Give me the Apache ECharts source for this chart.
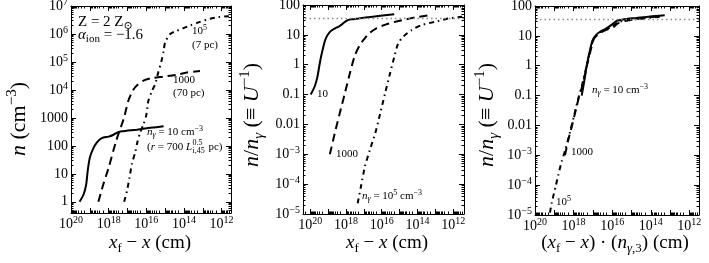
<!DOCTYPE html>
<html><head><meta charset="utf-8">
<script src="https://cdn.jsdelivr.net/npm/echarts@6/dist/echarts.min.js"></script>
<style>html,body{margin:0;padding:0;background:#fff}#c{width:709px;height:263px}</style>
</head><body><div id="c"></div><script>
// ---------------- data ----------------
// Panel 1: n (cm^-3) vs x_f - x (cm)
const p1SolidX = [3.5e19, 2.1e19, 1.55e19, 1.3e19, 1.0e19, 6.8e18, 4.2e18, 2.3e18, 1.0e18, 5.5e17, 3.4e17, 2.0e17, 3.2e16, 6.3e15, 1.2e15];
const p1SolidN = [1, 1.9, 4.3, 12.6, 38, 76, 132, 190, 214, 250, 300, 330, 380, 440, 500];
const p1DashX = [3.5e18, 1.9e18, 1.0e18, 4.0e17, 1.5e17, 9.1e16, 5.0e16, 2.7e16, 1.15e16, 4.2e15, 1.2e15, 2.4e14, 7.1e13, 1.4e13];
const p1DashN = [1, 4.3, 16.6, 150, 1050, 4000, 10000, 16000, 23000, 27000, 30000, 35000, 42000, 47000];
const p1DotDashX = [1.5e17, 1.07e17, 7.8e16, 5.9e16, 3.9e16, 3.0e16, 2.1e16, 1.4e16, 1.0e16, 7.8e15, 5.1e15, 3.4e15, 2.3e15, 1.6e15, 1.2e15, 1.0e15, 5.4e14, 2.4e14, 4.7e13, 1.4e13, 4.1e12, 1.5e12, 4.1e11];
const p1DotDashN = [1, 2.4, 7.2, 22, 58, 132, 300, 600, 1260, 4000, 8900, 16000, 43000, 1e5, 2.5e5, 5e5, 1e6, 1.3e6, 2e6, 2.7e6, 3.5e6, 4e6, 4.3e6];
// Panel 2: n/n_gamma vs x_f - x (cm)
const p2SolidX = [9.3e19, 5.5e19, 3.9e19, 2.9e19, 2.2e19, 1.4e19, 7.9e18, 4.0e18, 2.5e18, 1.6e18, 8.9e17, 5.0e17, 2.0e17, 3.2e16, 2.0e15];
const p2SolidR = [0.1, 0.19, 0.40, 1.12, 2.5, 7.1, 12.6, 16.6, 19, 22.9, 30.2, 33.1, 35.5, 40.7, 49];
const p2DashX = [7.9e18, 4.2e18, 2.2e18, 1.15e18, 6.0e17, 3.2e17, 1.6e17, 8.9e16, 5.0e16, 2.0e16, 4.0e15, 6.3e14, 1.0e14, 2.8e13];
const p2DashR = [1e-3, 5.1e-3, 0.024, 0.11, 0.52, 2.0, 4.8, 7.6, 11.2, 16.6, 24, 31.6, 39.8, 44.7];
const p2DotDashX = [2.2e17, 1.45e17, 8.7e16, 4.6e16, 2.3e16, 1.2e16, 6.5e15, 3.4e15, 1.95e15, 1.2e15, 6.2e14, 2.1e14, 5.8e13, 1.0e13, 1.8e12, 3.2e11];
const p2DotDashR = [2.3e-5, 8.3e-5, 3.9e-4, 1.4e-3, 5.1e-3, 0.024, 0.11, 0.52, 1.9, 5.2, 8.7, 14.5, 21.4, 27.5, 35.5, 40.7];
// Panel 3: n/n_gamma vs (x_f - x)(n_gamma,3) (cm)
const p3SolidX = [3.8e17, 2.6e17, 2.0e17, 1.43e17, 1.04e17, 6.4e16, 3.5e16, 2.0e16, 1.08e16, 5.9e15, 2.7e15, 5.5e14, 1.1e14, 1.9e13];
const p3SolidR = [0.1, 0.4, 1.17, 3.2, 7.1, 11.2, 14.8, 17.8, 23.4, 31.6, 35.5, 39.8, 44.7, 49];
const p3DashX = [2.8e18, 1.9e18, 1.26e18, 8.5e17, 5.75e17, 3.8e17, 2.6e17, 1.8e17, 1.27e17, 8.9e16, 5.5e16, 3.0e16, 1.67e16, 8.2e15, 5.1e15, 2.2e15, 5.3e14, 1.1e14, 3.0e13];
const p3DashR = [1e-3, 3.2e-3, 8.9e-3, 0.025, 0.071, 0.18, 0.5, 1.4, 3.5, 7.9, 11.2, 14.1, 16.6, 20, 26.3, 31.6, 36.3, 41.7, 46.8];
const p3DotDashX = [1.67e19, 1.37e19, 8.2e18, 6.2e18, 4.2e18, 2.8e18, 1.9e18, 1.26e18, 8.5e17, 5.75e17, 3.8e17, 2.6e17, 1.8e17, 1.27e17, 8.9e16, 4.9e16, 2.4e16, 1.04e16, 5.1e15, 1.96e15, 3.7e14, 3.4e13];
const p3DotDashR = [1.2e-5, 2.5e-5, 1e-4, 2.2e-4, 6.0e-4, 1.4e-3, 3.5e-3, 0.01, 0.028, 0.079, 0.2, 0.56, 1.58, 4.0, 8.3, 12.6, 15.8, 20, 28.2, 33.1, 37.2, 43.7];
// Dotted reference level (U^-1) in panels 2 and 3
const uRef = 37;
// Tick labels
const xTickValues = [1e20, 1e18, 1e16, 1e14, 1e12];
const p1YTickValues = [1, 10, 100, 1000, 1e4, 1e5, 1e6, 1e7];
const p23YTickValues = [1e-5, 1e-4, 1e-3, 0.01, 0.1, 1, 10, 100];
const plainTickText = {'0.01': '0.01', '0.1': '0.1', '1': '1', '10': '10', '100': '100', '1000': '1000'};
// Axis ranges (powers of ten)
const xRanges = [[11.5, 20], [11.4, 20.4], [11.5, 20]];
const yRanges = [[-0.4, 7], [-5, 2], [-5, 2]];

// ---------------- helpers ----------------
const FONT = '"Liberation Serif", "DejaVu Serif", serif';
function richSet(base) {
  const lh = Math.round(base * 1.3), s = Math.round(base * 0.7);
  const f = o => Object.assign({fontFamily: FONT, color: '#000', fill: '#000'}, o);
  return {
    r: f({fontSize: base, lineHeight: lh}),
    i: f({fontSize: base, lineHeight: lh, fontStyle: 'italic'}),
    sup: f({fontSize: s, lineHeight: s, verticalAlign: 'top'}),
    sub: f({fontSize: s, lineHeight: s, verticalAlign: 'bottom'}),
    isub: f({fontSize: s, lineHeight: s, verticalAlign: 'bottom', fontStyle: 'italic'})
  };
}
const R14 = richSet(14), R11 = richSet(11), R15 = richSet(15), R19 = richSet(19), R22 = richSet(22);
const M = '\u2212';
function expText(e) { return e < 0 ? M + (-e) : String(e); }
function tickLabel(v) {
  const e = Math.round(v);
  const key = String(Math.pow(10, e) >= 0.01 && Math.pow(10, e) <= 1000 ? +Math.pow(10, e).toPrecision(3) : 'x');
  if (plainTickText[key]) return '{r|' + plainTickText[key] + '}';
  return '{r|10}{sup|' + expText(e) + '}';
}
function logTicks(lo, hi) {
  const maj = [], min = [];
  for (let n = Math.floor(lo) - 1; n <= Math.ceil(hi); n++) {
    if (n >= lo - 1e-9 && n <= hi + 1e-9) maj.push(n);
    for (let k = 2; k <= 9; k++) {
      const v = n + Math.log10(k);
      if (v > lo + 1e-6 && v < hi - 1e-6) min.push(v);
    }
  }
  return {maj, min};
}
const L = v => Math.log10(v);
const black = {color: '#000', width: 1};

const grids = [
  {left: 71, top: 6, width: 160, height: 207, outerBoundsMode: 'none', containLabel: false},
  {left: 303, top: 5, width: 161, height: 209, outerBoundsMode: 'none', containLabel: false},
  {left: 535, top: 6, width: 164, height: 209, outerBoundsMode: 'none', containLabel: false}
];
const yLabelVals = [p1YTickValues, p23YTickValues, p23YTickValues];

const xAxis = [], yAxis = [];
for (let g = 0; g < 3; g++) {
  const [xlo, xhi] = xRanges[g], [ylo, yhi] = yRanges[g];
  const tx = logTicks(xlo, xhi), ty = logTicks(ylo, yhi);
  const cx = {type: 'value', gridIndex: g, min: xlo, max: xhi, inverse: true, splitLine: {show: false}, axisPointer: {show: false}};
  const cy = {type: 'value', gridIndex: g, min: ylo, max: yhi, splitLine: {show: false}, axisPointer: {show: false}};
  const major = vals => ({show: true, inside: true, length: 5, customValues: vals, lineStyle: black});
  const minor = vals => ({show: true, inside: true, length: 2.5, customValues: vals, lineStyle: black});
  xAxis.push(
    Object.assign({}, cx, {position: 'bottom', axisLine: {show: true, onZero: false, lineStyle: black}, axisTick: major(tx.maj),
      axisLabel: {show: true, customValues: xTickValues.map(L), formatter: tickLabel, rich: R14, margin: 2}}),
    Object.assign({}, cx, {position: 'bottom', axisLine: {show: false, onZero: false}, axisTick: minor(tx.min), axisLabel: {show: false}}),
    Object.assign({}, cx, {position: 'top', axisLine: {show: true, onZero: false, lineStyle: black}, axisTick: major(tx.maj), axisLabel: {show: false}}),
    Object.assign({}, cx, {position: 'top', axisLine: {show: false, onZero: false}, axisTick: minor(tx.min), axisLabel: {show: false}})
  );
  yAxis.push(
    Object.assign({}, cy, {position: 'left', axisLine: {show: true, onZero: false, lineStyle: black}, axisTick: major(ty.maj),
      axisLabel: {show: true, customValues: yLabelVals[g].map(L), formatter: tickLabel, rich: R14, margin: 3}}),
    Object.assign({}, cy, {position: 'left', axisLine: {show: false, onZero: false}, axisTick: minor(ty.min), axisLabel: {show: false}}),
    Object.assign({}, cy, {position: 'right', axisLine: {show: true, onZero: false, lineStyle: black}, axisTick: major(ty.maj), axisLabel: {show: false}}),
    Object.assign({}, cy, {position: 'right', axisLine: {show: false, onZero: false}, axisTick: minor(ty.min), axisLabel: {show: false}})
  );
}

const DASH = [8, 5], DOTDASH = [5, 4, 1.5, 4];
function line(xs, ys, g, type, refLine) {
  const s = {
    type: 'line', xAxisIndex: g * 4, yAxisIndex: g * 4,
    data: xs.map((x, i) => [L(x), L(ys[i])]),
    symbol: 'none', showSymbol: false, smooth: 0.25, silent: true, animation: false,
    emphasis: {disabled: true},
    lineStyle: {color: '#000', width: 2, type: type, cap: 'butt'}, z: 3
  };
  if (refLine) s.markLine = {symbol: 'none', silent: true, animation: false, label: {show: false},
    lineStyle: {color: '#8a8a8a', type: [1.5, 3], width: 1.3}, data: [{yAxis: L(uRef)}]};
  return s;
}
const series = [
  line(p1SolidX, p1SolidN, 0, 'solid'), line(p1DashX, p1DashN, 0, DASH), line(p1DotDashX, p1DotDashN, 0, DOTDASH),
  line(p2SolidX, p2SolidR, 1, 'solid', true), line(p2DashX, p2DashR, 1, DASH), line(p2DotDashX, p2DotDashR, 1, DOTDASH),
  line(p3SolidX, p3SolidR, 2, 'solid', true), line(p3DashX, p3DashR, 2, DASH), line(p3DotDashX, p3DotDashR, 2, DOTDASH)
];

// ---------------- texts ----------------
function txt(x, y, text, rich, opt) {
  opt = opt || {};
  return {type: 'text', x: x, y: y, rotation: opt.rot || 0, silent: true, z: 10,
    style: {text: text, rich: rich, fill: '#000', fontFamily: FONT, fontSize: opt.fs || 11,
      align: opt.align || 'left', verticalAlign: opt.va || 'middle',
      textAlign: opt.align || 'left', textVerticalAlign: opt.va || 'middle'}};
}
const cv = document.createElement('canvas').getContext('2d');
function w(t, size, italic) { cv.font = (italic ? 'italic ' : '') + size + 'px ' + FONT; return cv.measureText(t).width; }

const graphic = [];
// axis titles
graphic.push(txt(19, 119, '{i|n}{r| (cm}{sup|' + M + '3}{r|)}', R22, {rot: Math.PI / 2, align: 'center', fs: 22}));
graphic.push(txt(252, 115, '{i|n}{r|/}{i|n}{isub|\u03b3}{r| (\u2261 }{i|U}{sup|' + M + '1}{r|)}', R22, {rot: Math.PI / 2, align: 'center', fs: 22}));
graphic.push(txt(487, 115, '{i|n}{r|/}{i|n}{isub|\u03b3}{r| (\u2261 }{i|U}{sup|' + M + '1}{r|)}', R22, {rot: Math.PI / 2, align: 'center', fs: 22}));
graphic.push(txt(150, 243, '{i|x}{sub|f}{r| ' + M + ' }{i|x}{r| (cm)}', R19, {align: 'center', fs: 19}));
graphic.push(txt(387, 243, '{i|x}{sub|f}{r| ' + M + ' }{i|x}{r| (cm)}', R19, {align: 'center', fs: 19}));
graphic.push(txt(615, 243, '{r|(}{i|x}{sub|f}{r| ' + M + ' }{i|x}{r|) \u00b7 (}{i|n}{isub|\u03b3}{sub|,3}{r|) (cm)}', R19, {align: 'center', fs: 19}));
// panel 1 annotations
graphic.push(txt(78, 22, '{r|Z = 2 Z}{sub|\u2299}', R15, {fs: 15}));
graphic.push(txt(78, 35, '{i|\u03b1}{sub|ion}{r| = ' + M + '1.6}', R15, {fs: 15}));
graphic.push(txt(192, 31, '{r|10}{sup|5}', R11));
graphic.push(txt(192, 45, '{r|(7 pc)}', R11));
graphic.push(txt(173, 80, '{r|1000}', R11));
graphic.push(txt(173, 93, '{r|(70 pc)}', R11));
graphic.push(txt(147, 132, '{i|n}{isub|\u03b3}{r| = 10 cm}{sup|' + M + '3}', R11));
(function () {
  const x0 = 147, y0 = 147;
  graphic.push(txt(x0, y0, '{r|(}{i|r}{r| = 700 }{i|L}', R11));
  const w1 = w('(', 11) + w('r', 11, true) + w(' = 700 ', 11) + w('L', 11, true) + 0.5;
  graphic.push(txt(x0 + w1, y0 - 4, '{r|0.5}', {r: {fontFamily: FONT, fontSize: 8, lineHeight: 9, fill: '#000', color: '#000'}}, {fs: 8}));
  graphic.push(txt(x0 + w1, y0 + 4, '{r|i,45}', {r: {fontFamily: FONT, fontSize: 8, lineHeight: 9, fill: '#000', color: '#000'}}, {fs: 8}));
  const w2 = Math.max(w('0.5', 8), w('i,45', 8)) + 1;
  graphic.push(txt(x0 + w1 + w2, y0, '{r| pc)}', R11));
})();
// panel 2 annotations
graphic.push(txt(317, 94, '{r|10}', R11));
graphic.push(txt(336, 154, '{r|1000}', R11));
graphic.push(txt(362, 196, '{i|n}{isub|\u03b3}{r| = 10}{sup|5}{r| cm}{sup|' + M + '3}', R11));
// panel 3 annotations
graphic.push(txt(592, 90, '{i|n}{isub|\u03b3}{r| = 10 cm}{sup|' + M + '3}', R11));
graphic.push(txt(571, 152, '{r|1000}', R11));
graphic.push(txt(556, 202, '{r|10}{sup|5}', R11));

const chart = echarts.init(document.getElementById('c'), null, {renderer: 'canvas'});
chart.setOption({
  animation: false,
  backgroundColor: '#fff',
  textStyle: {fontFamily: FONT, color: '#000'},
  grid: grids, xAxis: xAxis, yAxis: yAxis, series: series, graphic: graphic
});
</script></body></html>
